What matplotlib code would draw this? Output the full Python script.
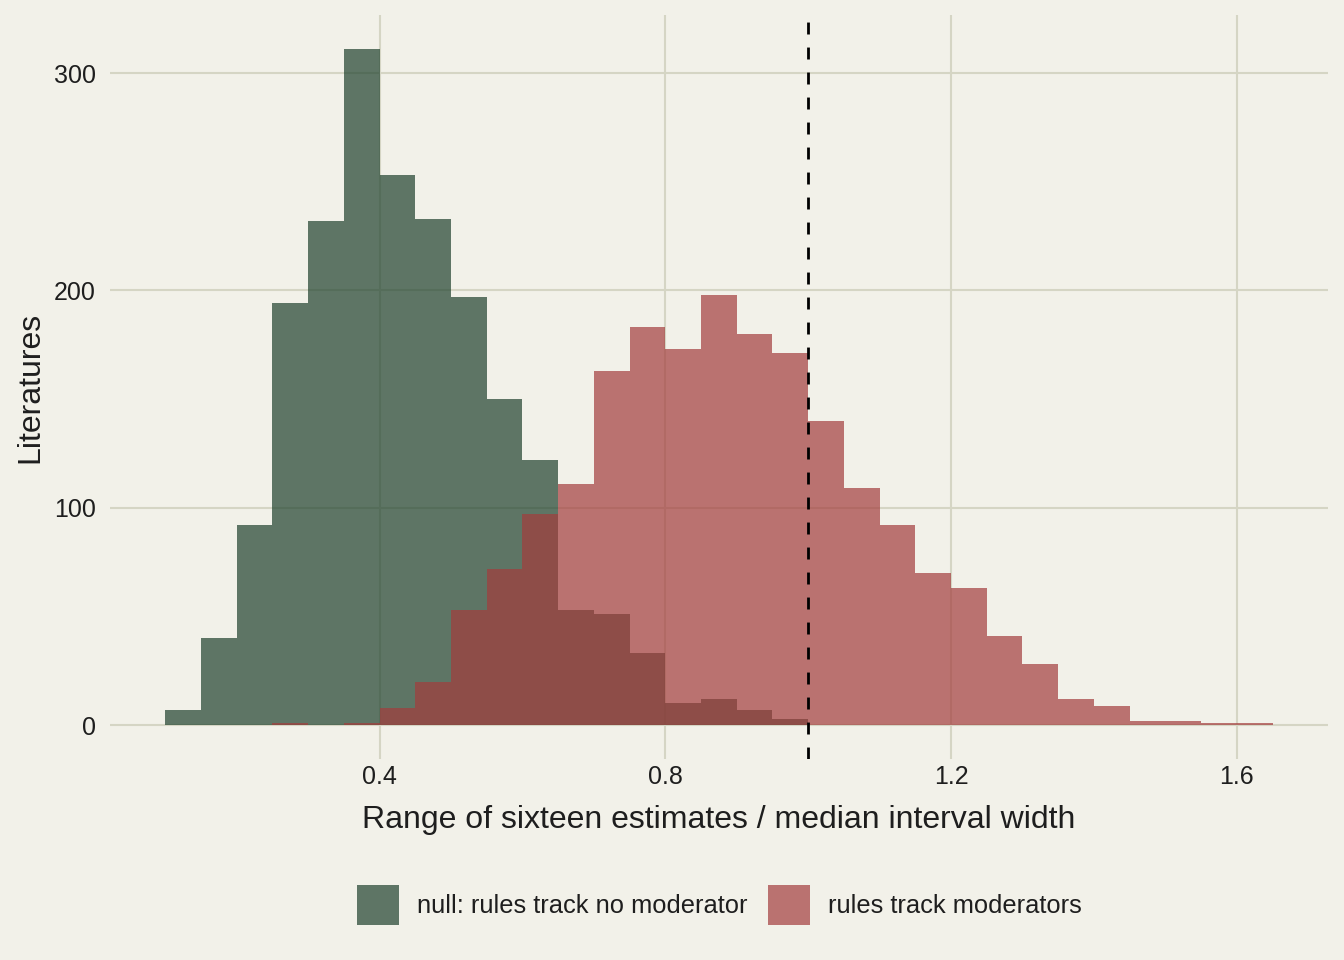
import numpy as np
import matplotlib.pyplot as plt
from matplotlib.patches import Patch

# Histogram counts (bin width 0.05)
null_left = 0.10
null_counts = [7, 40, 92, 194, 232, 311, 253, 233, 197, 150, 122, 53, 51, 33, 10, 12, 7, 3]
mod_left = 0.25
mod_counts = [1, 0, 1, 8, 20, 53, 72, 97, 111, 163, 183, 173, 198, 180, 171, 140,
              109, 92, 70, 63, 41, 28, 12, 9, 2, 2, 1, 1]
bin_width = 0.05
threshold = 1.0

labels = ['null: rules track no moderator', 'rules track moderators']
x_ticks = [0.4, 0.8, 1.2, 1.6]
y_ticks = [0, 100, 200, 300]

bg = '#f2f1e9'
green = '#1f412d'
red = '#a33d3d'
grid_col = '#d5d5c4'
text_col = '#1e1e1e'

plt.rcParams['font.family'] = ['Liberation Sans', 'DejaVu Sans']

fig = plt.figure(figsize=(13.44, 9.6), dpi=100, facecolor=bg)
ax = fig.add_axes([0.0818, 0.2094, 0.9062, 0.7746], facecolor=bg)

null_x = null_left + bin_width * np.arange(len(null_counts))
mod_x = mod_left + bin_width * np.arange(len(mod_counts))
ax.bar(null_x, null_counts, width=bin_width, align='edge', color=green, alpha=0.7,
       linewidth=0, zorder=2)
ax.bar(mod_x, mod_counts, width=bin_width, align='edge', color=red, alpha=0.7,
       linewidth=0, zorder=3)
ax.axvline(threshold, color='black', lw=2, linestyle=(0, (4.3, 4.7)), zorder=4)

ax.set_xlim(0.0225, 1.7275)
ax.set_ylim(-15.55, 326.55)
ax.set_xticks(x_ticks)
ax.set_xticklabels(['0.4', '0.8', '1.2', '1.6'])
ax.set_yticks(y_ticks)
ax.grid(True, color=grid_col, lw=1.5, zorder=0)
ax.set_axisbelow(True)
for s in ax.spines.values():
    s.set_visible(False)
ax.tick_params(length=0, labelsize=18, labelcolor=text_col)
ax.tick_params(axis='x', pad=4)
ax.tick_params(axis='y', pad=10)

ax.set_xlabel('Range of sixteen estimates / median interval width', fontsize=23,
              color=text_col, labelpad=12)
ax.set_ylabel('Literatures', fontsize=23, color=text_col, labelpad=6.5)

handles = [Patch(facecolor=green, alpha=0.7, linewidth=0),
           Patch(facecolor=red, alpha=0.7, linewidth=0)]
leg = fig.legend(handles, labels, loc='center', bbox_to_anchor=(0.535, 0.057), ncol=2,
                 frameon=False, fontsize=18.4, handlelength=1.65, handleheight=2.05,
                 handletextpad=0.7, columnspacing=0.8)
for t in leg.get_texts():
    t.set_color(text_col)

fig.savefig('out.png', dpi=100, facecolor=bg)
